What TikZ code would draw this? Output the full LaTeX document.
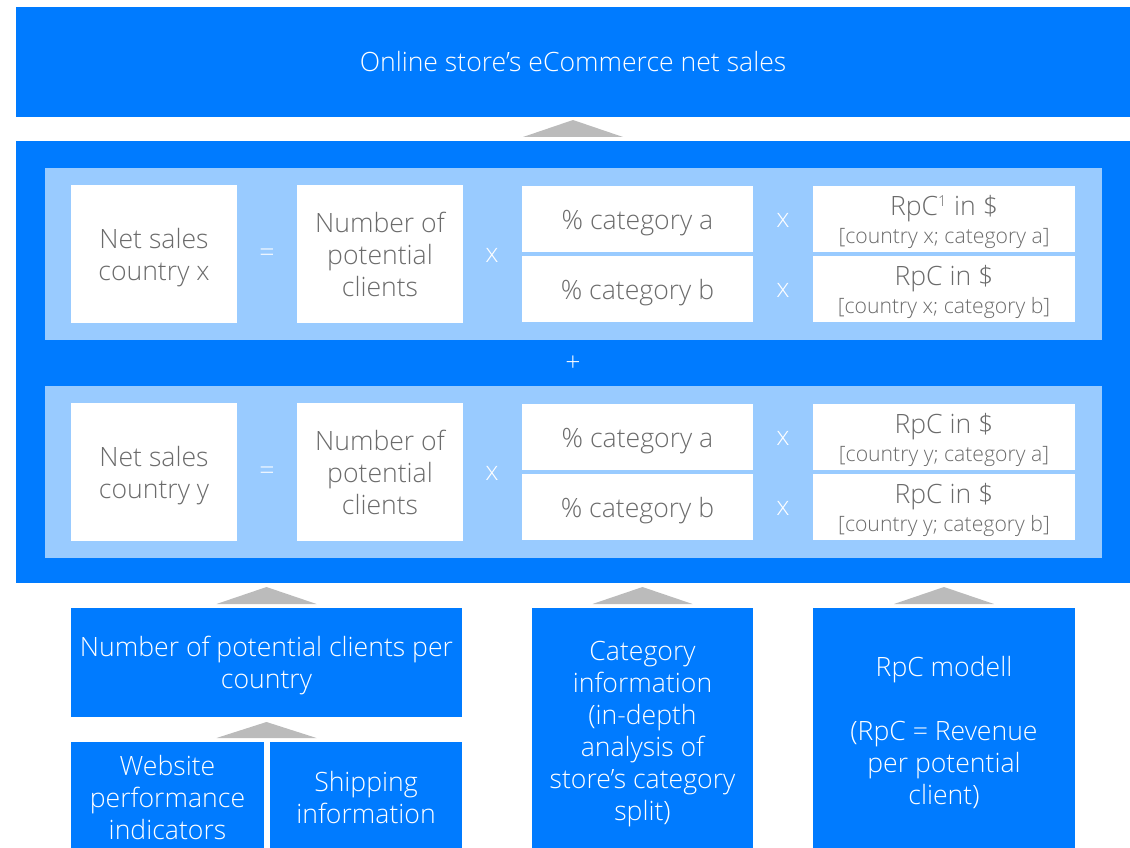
\documentclass[tikz,border=0pt]{standalone}
\usepackage{fontspec}
\setmainfont{Open Sans}[UprightFont=* Light]
\usepackage{xcolor}
\usetikzlibrary{calc}
\definecolor{sblue}{HTML}{007BFF}
\definecolor{lblue}{HTML}{99CBFF}
\definecolor{tgray}{HTML}{BBBBBB}
\definecolor{fgray}{HTML}{6B6B6B}
\newcommand\lift[1]{\rule{0pt}{#1pt}}

\begin{document}
\begin{tikzpicture}[x=1pt,y=-1pt,
  every node/.style={inner sep=0pt,outer sep=0pt,align=center,font=\fontsize{26.6}{32}\selectfont},
  blue/.style={fill=sblue,text=white},
  panel/.style={fill=lblue,minimum width=1057pt,minimum height=172pt},
  white/.style={fill=white,text=fgray,execute at begin node=\lift{27}},
  op/.style={text=white},
  tri/.style={fill=tgray}]
  \useasboundingbox (0,0) rectangle (1130,848);

  % result and model
  \node[blue,minimum width=1114pt,minimum height=110pt] (sales) at (573,62) {Online store’s eCommerce net sales};
  \node[blue,minimum width=1114pt,minimum height=442pt] (model) at (573,362) {};
  \node[panel] (panx) at (573.5,254) {};
  \node[panel] (pany) at (573.5,472) {};
  \node[op] (plus) at (573,364) {+};

  % country x
  \node[white,minimum width=166pt,minimum height=138pt] (nsx) at (154,254) {\lift{28}Net sales\\ country x};
  \node[white,minimum width=166pt,minimum height=138pt] (npx) at (380,254) {\lift{22}Number of\\ potential\\ clients};
  \node[white,minimum width=231pt,minimum height=66pt] (cax) at (637.5,219) {\% category a};
  \node[white,minimum width=231pt,minimum height=66pt] (cbx) at (637.5,289) {\% category b};
  \node[white,minimum width=262pt,minimum height=66pt] (rax) at (944,219)
    {\lift{26}RpC\textsuperscript{\fontsize{15}{15}\selectfont 1} in \$\\[-4pt]{\fontsize{21.2}{24}\selectfont [country x; category a]}};
  \node[white,minimum width=262pt,minimum height=66pt] (rbx) at (944,289)
    {\lift{26}RpC in \$\\[-4pt]{\fontsize{21.2}{24}\selectfont [country x; category b]}};
  \node[op] (eqx) at (267,255) {=};
  \node[op] (mx) at (492,255) {x};
  \node[op] (max) at (783,220) {x};
  \node[op] (mbx) at (783,290) {x};

  % country y
  \node[white,minimum width=166pt,minimum height=138pt] (nsy) at (154,472) {\lift{28}Net sales\\ country y};
  \node[white,minimum width=166pt,minimum height=138pt] (npy) at (380,472) {\lift{22}Number of\\ potential\\ clients};
  \node[white,minimum width=231pt,minimum height=66pt] (cay) at (637.5,437) {\% category a};
  \node[white,minimum width=231pt,minimum height=66pt] (cby) at (637.5,507) {\% category b};
  \node[white,minimum width=262pt,minimum height=66pt] (ray) at (944,437)
    {\lift{26}RpC in \$\\[-4pt]{\fontsize{21.2}{24}\selectfont [country y; category a]}};
  \node[white,minimum width=262pt,minimum height=66pt] (rby) at (944,507)
    {\lift{26}RpC in \$\\[-4pt]{\fontsize{21.2}{24}\selectfont [country y; category b]}};
  \node[op] (eqy) at (267,473) {=};
  \node[op] (my) at (492,473) {x};
  \node[op] (may) at (783,438) {x};
  \node[op] (mby) at (783,508) {x};

  % inputs
  \node[blue,minimum width=391pt,minimum height=109pt] (pcl) at (266.5,662.5) {\lift{26}Number of potential clients per\\ country};
  \node[blue,minimum width=193pt,minimum height=112pt] (web) at (167.5,798) {Website\\ performance\\ indicators};
  \node[blue,minimum width=192pt,minimum height=112pt] (ship) at (366,798) {Shipping\\ information};
  \node[blue,minimum width=221pt,minimum height=246pt] (cat) at (642.5,731) {\lift{25}Category\\ information\\ (in-depth\\ analysis of\\ store’s category\\ split)};
  \node[blue,minimum width=262pt,minimum height=246pt] (rpc) at (944,731) {\lift{24}RpC modell\\[32pt] (RpC = Revenue\\ per potential\\ client)};

  % arrows
  \fill[tri] ($(model.north)+(-50,-4)$) -- ($(sales.south)+(0,3)$) -- ($(model.north)+(50,-4)$) -- cycle;
  \fill[tri] ($(pcl.north)+(-50,-4)$) -- ($(pcl.north |- model.south)+(0,4)$) -- ($(pcl.north)+(50,-4)$) -- cycle;
  \fill[tri] ($(cat.north)+(-50,-4)$) -- ($(cat.north |- model.south)+(0,4)$) -- ($(cat.north)+(50,-4)$) -- cycle;
  \fill[tri] ($(rpc.north)+(-50,-4)$) -- ($(rpc.north |- model.south)+(0,4)$) -- ($(rpc.north)+(50,-4)$) -- cycle;
  \fill[tri] ($(pcl.south |- web.north)+(-50,-4)$) -- ($(pcl.south)+(0,5)$) -- ($(pcl.south |- web.north)+(50,-4)$) -- cycle;
\end{tikzpicture}
\end{document}
